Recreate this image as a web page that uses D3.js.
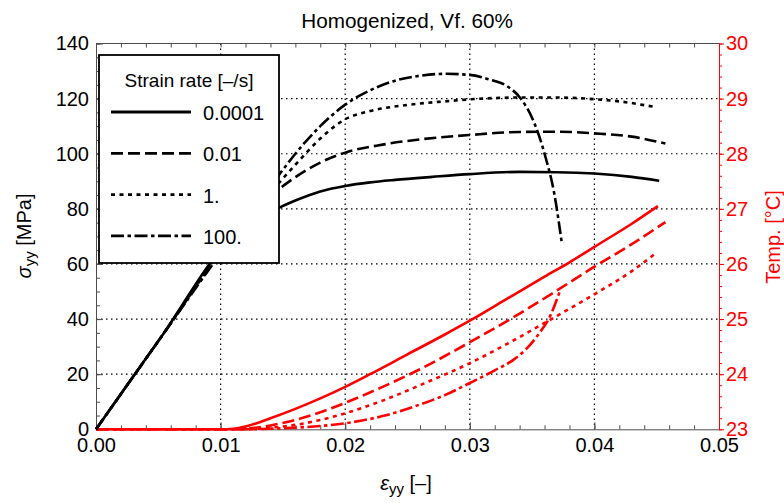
<!DOCTYPE html>
<html>
<head>
<meta charset="utf-8">
<script src="https://cdn.jsdelivr.net/npm/d3@7/dist/d3.min.js"></script>
<style>
  body { margin: 0; background: #fff; }
  svg { font-family: "Liberation Sans", Arial, sans-serif; }
  .grid line { stroke: #000; stroke-width: 1.2; stroke-dasharray: 1.5,3.5; }
</style>
</head>
<body>
<script>
// stress curves [strain, MPa]
var stress0001 = [[0,0],[0.005,32],[0.011,70],[0.0125,75.5],[0.0148,80.6],[0.016,83],[0.018,86.3],[0.020,88.3],[0.022,89.6],[0.024,90.5],[0.027,91.6],[0.030,92.6],[0.034,93.4],[0.037,93.3],[0.040,92.8],[0.043,91.6],[0.0452,90.2]];
var stress001  = [[0,0],[0.005,32],[0.011,70],[0.0125,77],[0.0148,87.5],[0.016,91.5],[0.018,96.8],[0.020,100.4],[0.023,103.3],[0.026,105.2],[0.030,106.8],[0.034,107.9],[0.037,108],[0.040,107.4],[0.043,106.2],[0.0457,103.7]];
var stress1    = [[0,0],[0.005,32],[0.011,70],[0.0125,78],[0.0148,90],[0.016,96],[0.018,105.5],[0.020,112.5],[0.022,115.5],[0.025,117.7],[0.028,119],[0.031,120],[0.034,120.4],[0.037,120.4],[0.040,119.8],[0.042,119],[0.0448,117]];
var stress100  = [[0,0],[0.005,32],[0.011,70],[0.0125,79],[0.0148,93],[0.016,100],[0.018,110],[0.020,117.8],[0.022,123],[0.024,126.5],[0.026,128.3],[0.028,129],[0.030,128.6],[0.0315,127],[0.033,124.5],[0.034,120.5],[0.035,113],[0.036,100],[0.0368,85],[0.0374,67]];

// temperature curves [strain, degC]
var temp0001 = [[0,23],[0.010,23],[0.011,23.01],[0.012,23.05],[0.014,23.2],[0.016,23.37],[0.018,23.56],[0.020,23.77],[0.022,24.0],[0.025,24.36],[0.028,24.72],[0.030,24.97],[0.033,25.37],[0.036,25.77],[0.038,26.03],[0.040,26.31],[0.043,26.73],[0.0451,27.05]];
var temp001  = [[0,23],[0.011,23],[0.012,23.01],[0.014,23.07],[0.016,23.17],[0.018,23.31],[0.020,23.48],[0.023,23.77],[0.026,24.09],[0.030,24.58],[0.034,25.1],[0.037,25.52],[0.040,25.95],[0.043,26.36],[0.0457,26.76]];
var temp1    = [[0,23],[0.012,23],[0.014,23.03],[0.016,23.08],[0.018,23.17],[0.020,23.29],[0.023,23.52],[0.026,23.8],[0.030,24.2],[0.033,24.55],[0.036,24.93],[0.040,25.45],[0.043,25.87],[0.0449,26.19]];
var temp100  = [[0,23],[0.012,23],[0.014,23.01],[0.016,23.03],[0.018,23.06],[0.020,23.11],[0.023,23.24],[0.026,23.45],[0.028,23.62],[0.030,23.84],[0.032,24.07],[0.0335,24.26],[0.0345,24.45],[0.0355,24.72],[0.0365,25.08],[0.0372,25.49]];

var rateLabels = ["0.0001", "0.01", "1.", "100."];
var xTicks = [0, 0.01, 0.02, 0.03, 0.04, 0.05];
var yTicks = [0, 20, 40, 60, 80, 100, 120, 140];
var tTicks = [23, 24, 25, 26, 27, 28, 29, 30];

var w = 784, h = 503;
var pL = 96, pR = 719, pT = 43.5, pB = 429.3;   // plot box (don't use "top", it's window.top)

// line styles per strain rate
var dashes = [null, "12,5", "4,4.5", "13,3.5,3.5,3.5"];

var svg = d3.select("body").append("svg")
    .attr("width", w)
    .attr("height", h);

var x = d3.scaleLinear().domain([0, 0.05]).range([pL, pR]);
var y = d3.scaleLinear().domain([0, 140]).range([pB, pT]);
var yT = d3.scaleLinear().domain([23, 30]).range([pB, pT]);

// grid
var grid = svg.append("g").attr("class", "grid");
grid.selectAll(".gx")
    .data(xTicks.slice(1, -1))
    .enter().append("line")
    .attr("x1", d => x(d)).attr("x2", d => x(d))
    .attr("y1", pT).attr("y2", pB);
grid.selectAll(".gy")
    .data(yTicks.slice(1, -1))
    .enter().append("line")
    .attr("x1", pL).attr("x2", pR)
    .attr("y1", d => y(d)).attr("y2", d => y(d));

var axisColor = "#4d4d4d";
svg.append("line").attr("x1", pL).attr("x2", pR).attr("y1", pT).attr("y2", pT)
    .attr("stroke", axisColor).attr("stroke-width", 1);

function minor(step, lo, hi) {
  return d3.range(lo, hi + step / 2, step);
}

// ticks point inward except on the red axis
svg.append("g")
    .attr("transform", `translate(0,${pB})`)
    .call(d3.axisBottom(x).tickValues(minor(0.002, 0, 0.05)).tickSize(-4).tickFormat("").tickSizeOuter(0))
    .call(g => g.select(".domain").remove())
    .call(g => g.selectAll("line").attr("stroke", axisColor));
svg.append("g")
    .attr("transform", `translate(0,${pT})`)
    .call(d3.axisTop(x).tickValues(minor(0.002, 0, 0.05)).tickSize(-4).tickFormat("").tickSizeOuter(0))
    .call(g => g.select(".domain").remove())
    .call(g => g.selectAll("line").attr("stroke", axisColor));
svg.append("g")
    .attr("transform", `translate(0,${pB})`)
    .call(d3.axisBottom(x).tickValues(xTicks).tickSize(-7).tickPadding(9).tickFormat(d3.format(".2f")).tickSizeOuter(0))
    .call(g => g.select(".domain").attr("stroke", axisColor))
    .call(g => g.selectAll("line").attr("stroke", axisColor))
    .call(g => g.selectAll("text").attr("font-size", 20).attr("fill", "#000"))
    .attr("font-family", null);

svg.append("g")
    .attr("transform", `translate(${pL},0)`)
    .call(d3.axisLeft(y).tickValues(minor(5, 0, 140)).tickSize(-4).tickFormat("").tickSizeOuter(0))
    .call(g => g.select(".domain").remove())
    .call(g => g.selectAll("line").attr("stroke", axisColor));
svg.append("g")
    .attr("transform", `translate(${pL},0)`)
    .call(d3.axisLeft(y).tickValues(yTicks).tickSize(-7).tickPadding(7).tickSizeOuter(0))
    .call(g => g.select(".domain").attr("stroke", axisColor))
    .call(g => g.selectAll("line").attr("stroke", axisColor))
    .call(g => g.selectAll("text").attr("font-size", 20).attr("fill", "#000"))
    .attr("font-family", null);

// right temperature axis (red)
svg.append("g")
    .attr("transform", `translate(${pR},0)`)
    .call(d3.axisRight(yT).tickValues(minor(0.2, 23, 30)).tickSize(3).tickFormat("").tickSizeOuter(0))
    .call(g => g.select(".domain").remove())
    .call(g => g.selectAll("line").attr("stroke", "#ff0000"));
svg.append("g")
    .attr("transform", `translate(${pR},0)`)
    .call(d3.axisRight(yT).tickValues(tTicks).tickSize(5).tickPadding(2).tickFormat(d3.format("d")).tickSizeOuter(0))
    .call(g => g.select(".domain").attr("stroke", "#ff0000"))
    .call(g => g.selectAll("line").attr("stroke", "#ff0000"))
    .call(g => g.selectAll("text").attr("font-size", 20).attr("fill", "#ff0000"))
    .attr("font-family", null);

// curves
var lineS = d3.line().x(d => x(d[0])).y(d => y(d[1])).curve(d3.curveMonotoneX);
var lineT = d3.line().x(d => x(d[0])).y(d => yT(d[1])).curve(d3.curveMonotoneX);

var tempSets = [temp0001, temp001, temp1, temp100];
var stressSets = [stress0001, stress001, stress1, stress100];

[3, 2, 1, 0].forEach(i => {
  svg.append("path")
      .attr("d", lineT(tempSets[i]))
      .attr("fill", "none")
      .attr("stroke", "#ff0000")
      .attr("stroke-width", 2.6)
      .attr("stroke-dasharray", dashes[i]);
});
[3, 2, 1, 0].forEach(i => {
  svg.append("path")
      .attr("d", lineS(stressSets[i]))
      .attr("fill", "none")
      .attr("stroke", "#000")
      .attr("stroke-width", 2.6)
      .attr("stroke-dasharray", dashes[i]);
});

// title + axis labels
svg.append("text")
    .attr("x", 407).attr("y", 28)
    .attr("text-anchor", "middle")
    .attr("font-size", 20.7)
    .text("Homogenized, Vf. 60%");

var xl = svg.append("text")
    .attr("x", 406).attr("y", 490)
    .attr("text-anchor", "middle")
    .attr("font-size", 20);
xl.append("tspan").attr("font-style", "italic").text("ε");
xl.append("tspan").attr("font-size", 15).attr("dy", 4).text("yy");
xl.append("tspan").attr("dy", -4).text(" [–]");

var yl = svg.append("text")
    .attr("transform", "translate(31,236) rotate(-90)")
    .attr("text-anchor", "middle")
    .attr("font-size", 20);
yl.append("tspan").attr("font-style", "italic").text("σ");
yl.append("tspan").attr("font-size", 15).attr("dy", 4).text("yy");
yl.append("tspan").attr("dy", -4).text(" [MPa]");

svg.append("text")
    .attr("transform", "translate(780,237) rotate(-90)")
    .attr("text-anchor", "middle")
    .attr("font-size", 20)
    .attr("fill", "#ff0000")
    .text("Temp. [°C]");

// legend
var legend = svg.append("g").attr("class", "legend");
legend.append("rect")
    .attr("x", 99).attr("y", 55)
    .attr("width", 180).attr("height", 208)
    .attr("fill", "#fff")
    .attr("stroke", "#000")
    .attr("stroke-width", 1.8);
legend.append("text")
    .attr("x", 189).attr("y", 87)
    .attr("text-anchor", "middle")
    .attr("font-size", 19)
    .text("Strain rate [–/s]");
rateLabels.forEach((lab, i) => {
  var ly = 112 + i * 41.3;
  legend.append("line")
      .attr("x1", 111).attr("x2", 191)
      .attr("y1", ly).attr("y2", ly)
      .attr("stroke", "#000")
      .attr("stroke-width", 2.8)
      .attr("stroke-dasharray", dashes[i]);
  legend.append("text")
      .attr("x", 203).attr("y", ly + 8)
      .attr("font-size", 20)
      .text(lab);
});
</script>
</body>
</html>
